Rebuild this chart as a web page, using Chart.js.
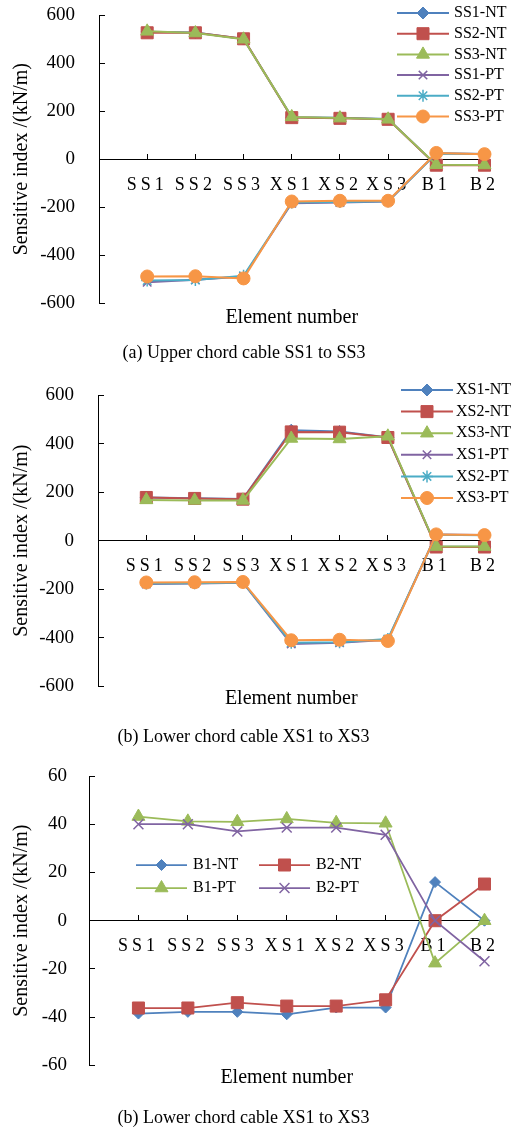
<!DOCTYPE html>
<html><head><meta charset="utf-8">
<script src="https://cdn.jsdelivr.net/npm/chart.js@4.4.0/dist/chart.umd.min.js"></script>
<style>
html,body{margin:0;padding:0;background:#fff;}
body{width:516px;height:1130px;position:relative;overflow:hidden;}
.box{position:absolute;left:0;width:516px;}
</style></head><body>
<div class="box" style="top:0;height:368px"><canvas id="c1"></canvas></div>
<div class="box" style="top:370px;height:380px"><canvas id="c2"></canvas></div>
<div class="box" style="top:750px;height:380px"><canvas id="c3"></canvas></div>
<script>
// ---------- data ----------
const categories = ['SS1', 'SS2', 'SS3', 'XS1', 'XS2', 'XS3', 'B1', 'B2'];
const yTicksAB = [-600, -400, -200, 0, 200, 400, 600];
const yTicksC = [-60, -40, -20, 0, 20, 40, 60];

// (a) upper chord cable
const labelsA = ['SS1-NT', 'SS2-NT', 'SS3-NT', 'SS1-PT', 'SS2-PT', 'SS3-PT'];
const ss1NT = [530, 527, 500, 175, 172, 167, -24, -24];
const ss2NT = [526, 526, 501, 173, 170, 166, -25, -25];
const ss3NT = [532, 525, 499, 176, 171, 166, -23, -24];
const ss1PT = [-512, -502, -488, -183, -180, -176, 25, 22];
const ss2PT = [-505, -503, -485, -180, -178, -175, 24, 22];
const ss3PT = [-488, -487, -496, -176, -173, -173, 26, 21];

// (b) lower chord cable
const labelsB = ['XS1-NT', 'XS2-NT', 'XS3-NT', 'XS1-PT', 'XS2-PT', 'XS3-PT'];
const xs1NT = [178, 175, 172, 455, 450, 425, -25, -25];
const xs2NT = [178, 174, 171, 448, 447, 425, -26, -26];
const xs3NT = [168, 166, 166, 421, 419, 430, -24, -24];
const xs1PT = [-178, -176, -173, -425, -420, -408, 25, 23];
const xs2PT = [-176, -175, -172, -420, -418, -405, 24, 22];
const xs3PT = [-172, -171, -170, -410, -408, -413, 26, 23];

// (c) brace cables
const labelsC = ['B1-NT', 'B2-NT', 'B1-PT', 'B2-PT'];
const b1NT = [-38.5, -37.8, -37.8, -38.8, -36.0, -36.0, 16.0, 0];
const b2NT = [-36.2, -36.2, -34.0, -35.4, -35.4, -32.8, 0, 15.2];
const b1PT = [43.2, 41.2, 41.0, 42.2, 40.6, 40.4, -17.6, 0];
const b2PT = [40.0, 40.0, 37.0, 38.6, 38.6, 35.6, 0, -16.8];

// ---------- styles ----------
const COL = {blue: '#4F81BD', red: '#C0504D', green: '#9BBB59', purple: '#8064A2', aqua: '#4BACC6', orange: '#F79646'};
const FONT = "'Liberation Serif', 'Times New Roman', serif";
const sixColors = [COL.blue, COL.red, COL.green, COL.purple, COL.aqua, COL.orange];
const sixStyles = ['rectRot', 'rect', 'triangle', 'crossRot', 'star', 'circle'];
const sixRadius = [6, 8.5, 7.5, 6, 6, 6.5];
const fourColors = [COL.blue, COL.red, COL.green, COL.purple];
const fourStyles = ['rectRot', 'rect', 'triangle', 'crossRot'];
const fourRadius = [5.5, 8.5, 7.5, 7];

// ---------- overlay legend ----------
const overlayLegend = {
  id: 'overlayLegend',
  afterDraw(chart, args, o) {
    if (!o || !o.display) return;
    const ctx = chart.ctx;
    const H = Chart.helpers;
    ctx.save();
    chart.data.datasets.forEach((ds, i) => {
      const col = i % o.cols, row = Math.floor(i / o.cols);
      const x = o.x + col * o.colW, y = o.y + row * o.rowH;
      ctx.strokeStyle = ds.borderColor;
      ctx.lineWidth = ds.borderWidth;
      ctx.beginPath(); ctx.moveTo(x, y); ctx.lineTo(x + o.lineLen, y); ctx.stroke();
      ctx.fillStyle = ds.pointBackgroundColor;
      ctx.strokeStyle = ds.pointBorderColor;
      ctx.lineWidth = ds.pointBorderWidth;
      if (H && H.drawPoint) {
        H.drawPoint(ctx, {pointStyle: ds.pointStyle, radius: ds.pointRadius, borderWidth: ds.pointBorderWidth, rotation: 0}, x + o.lineLen / 2, y);
      }
      ctx.fillStyle = '#000';
      ctx.font = o.font;
      ctx.textAlign = 'left';
      ctx.textBaseline = 'middle';
      ctx.fillText(ds.label, x + o.lineLen + o.gap, y);
    });
    ctx.restore();
  }
};

function makeChart(id, p) {
  const n = p.series.length;
  const datasets = p.series.map((vals, i) => ({
    label: p.labels[i],
    data: vals.map((v, k) => ({x: k + 1, y: v})),
    borderColor: p.colors[i],
    backgroundColor: p.colors[i],
    borderWidth: p.lineWidth,
    pointStyle: p.styles[i],
    pointRadius: p.radius[i],
    pointHoverRadius: p.radius[i],
    pointBackgroundColor: p.colors[i],
    pointBorderColor: p.colors[i],
    pointBorderWidth: (p.styles[i] === 'crossRot' || p.styles[i] === 'star') ? 1.5 : 1,
    tension: 0,
    fill: false,
    clip: false,
    order: n - i
  }));
  return new Chart(document.getElementById(id), {
    type: 'line',
    data: {datasets},
    plugins: [overlayLegend],
    options: {
      responsive: true,
      maintainAspectRatio: false,
      animation: false,
      events: [],
      layout: {padding: p.padding},
      plugins: {
        legend: {display: false},
        tooltip: {enabled: false},
        subtitle: {display: true, text: 'Element number', position: 'bottom', fullSize: false,
          color: '#000', font: {family: FONT, size: 20, weight: 'normal'}, padding: {top: p.subPad, bottom: 0}},
        title: {display: true, text: p.caption, position: 'bottom', fullSize: true,
          color: '#000', font: {family: FONT, size: 18, weight: 'normal'}, padding: {top: p.capPad, bottom: 0}},
        overlayLegend: Object.assign({display: true, font: '16px ' + FONT}, p.legend)
      },
      scales: {
        x: {
          type: 'linear',
          position: {y: 0},
          min: 0,
          max: categories.length,
          afterBuildTicks: s => { s.ticks = [0].concat(categories.map((c, k) => k + 1)).map(v => ({value: v})); },
          afterUpdate: s => {
            if (!s._lsPatched) {
              const orig = s.drawLabels;
              s.drawLabels = function (a) { const c = this.ctx; c.save(); c.letterSpacing = '4px'; orig.call(this, a); c.restore(); };
              s._lsPatched = true;
            }
          },
          grid: {drawOnChartArea: false, drawTicks: true, tickLength: -6, color: '#000', lineWidth: 1},
          border: {display: true, color: '#000', width: 1},
          ticks: {
            autoSkip: false, maxRotation: 0, color: '#000', padding: 21,
            font: {family: FONT, size: 18},
            callback: v => (v >= 1 && v <= categories.length) ? categories[v - 1] : ''
          },
          title: {display: false}
        },
        y: {
          type: 'linear',
          position: 'left',
          min: p.yTicks[0],
          max: p.yTicks[p.yTicks.length - 1],
          afterBuildTicks: s => { s.ticks = p.yTicks.map(v => ({value: v})); },
          afterFit: s => { s.width = p.axisLeft; s.paddingTop = 0; s.paddingBottom = 0; },
          grid: {drawOnChartArea: false, drawTicks: true, tickLength: -6, color: '#000', lineWidth: 1},
          border: {display: true, color: '#000', width: 1},
          ticks: {color: '#000', padding: p.yLabPad, font: {family: FONT, size: 19}},
          title: {display: true, text: 'Sensitive index /(kN/m)', color: '#000',
            font: {family: FONT, size: 20}, padding: {top: p.yTitlePad, bottom: 0}}
        }
      }
    }
  });
}

makeChart('c1', {
  series: [ss1NT, ss2NT, ss3NT, ss1PT, ss2PT, ss3PT], labels: labelsA,
  colors: sixColors, styles: sixStyles, radius: sixRadius, lineWidth: 2,
  yTicks: yTicksAB, axisLeft: 99, yLabPad: 30, yTitlePad: 10,
  padding: {top: 15, right: 28, bottom: 4, left: 0},
  subPad: 2, capPad: 13,
  caption: '(a) Upper chord cable SS1 to SS3',
  legend: {x: 397, y: 13, rowH: 20.7, cols: 1, colW: 0, lineLen: 52, gap: 5}
});

makeChart('c2', {
  series: [xs1NT, xs2NT, xs3NT, xs1PT, xs2PT, xs3PT], labels: labelsB,
  colors: sixColors, styles: sixStyles, radius: sixRadius, lineWidth: 2,
  yTicks: yTicksAB, axisLeft: 98, yLabPad: 30, yTitlePad: 10,
  padding: {top: 25, right: 29, bottom: 2, left: 0},
  subPad: 0, capPad: 16,
  caption: '(b) Lower chord cable XS1 to XS3',
  legend: {x: 401, y: 20, rowH: 21.6, cols: 1, colW: 0, lineLen: 52, gap: 3}
});

makeChart('c3', {
  series: [b1NT, b2NT, b1PT, b2PT], labels: labelsC,
  colors: fourColors, styles: fourStyles, radius: fourRadius, lineWidth: 1.75,
  yTicks: yTicksC, axisLeft: 89, yLabPad: 28, yTitlePad: 10,
  padding: {top: 26, right: 29, bottom: 1, left: 0},
  subPad: 0, capPad: 18,
  caption: '(b) Lower chord cable XS1 to XS3',
  legend: {x: 136, y: 115, rowH: 23, cols: 2, colW: 123, lineLen: 51, gap: 6}
});
</script>
</body></html>
